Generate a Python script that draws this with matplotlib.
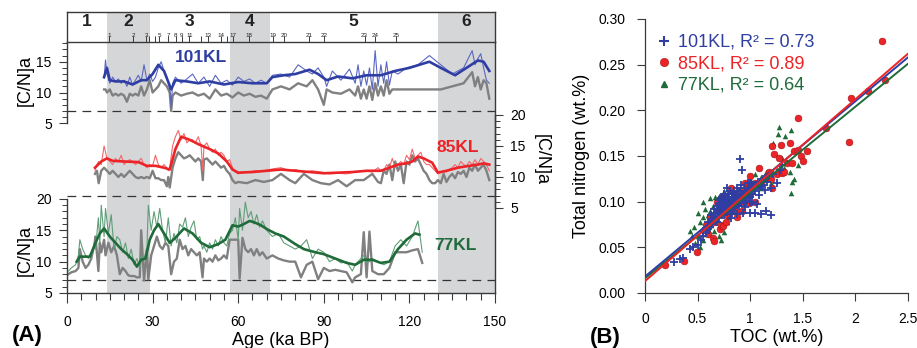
# C/N records of 101KL, 85KL, 77KL (A) and TN vs TOC (B)

import numpy as np
import matplotlib
matplotlib.use("Agg")
import matplotlib.pyplot as plt
from matplotlib.ticker import FixedLocator, MultipleLocator
from matplotlib.lines import Line2D

plt.rcParams['font.family'] = ['Liberation Sans', 'DejaVu Sans']

# ---------------- data ----------------
# MIS stages
stage_edges = [0, 14, 29, 57, 71, 130, 150]
stage_names = ['1', '2', '3', '4', '5', '6']
stage_shaded = [False, True, False, True, False, True]

# age tie points along the top
tie_ages = [14.7, 23.3, 27.7, 32.4, 35.5, 38.1, 40.2, 42.9, 49.4, 54.1,
            58.3, 63.9, 72.3, 76.1, 84.9, 90.1, 104.3, 108.1, 115.2]
tie_labels = ['1', '2', '3', '5', '7', '8', '9', '11', '13', '14',
              '17', '18', '19', '20', '21', '22', '23', '24', '25']
tie_extra = [28.9, 30.8, 46.9, 56.0]

# 101KL
age101 = [13, 13.5, 14, 15, 16, 17, 18, 19, 20, 21,
          22, 23, 24, 25, 26, 27, 28, 29, 30, 31,
          32, 33, 34, 35, 36, 36.5, 37, 38, 40, 42,
          44, 46, 48, 50, 52, 54, 56, 58, 60, 62,
          64, 66, 68, 70, 72, 75, 78, 81, 84, 86,
          88, 90, 91, 93, 96, 99, 101, 102, 103, 104,
          105, 106, 107, 108, 109, 110, 111, 112, 113, 114,
          116, 119, 123, 127, 131, 135, 139, 142, 143, 144,
          145, 146, 147, 148]
cn101 = [12.3, 15.3, 13.0, 11.5, 12.5, 11.8, 12.2, 11.5, 12.0, 11.0,
         12.5, 11.2, 12.0, 12.8, 11.8, 14.5, 12.0, 13.0, 11.8, 12.5,
         14.0, 15.0, 13.5, 12.5, 10.5, 7.5, 11.5, 12.5, 11.5, 12.2,
         13.0, 11.5, 12.5, 11.0, 12.8, 11.5, 12.0, 11.2, 12.5, 11.8,
         12.2, 11.5, 12.0, 11.5, 12.8, 13.0, 12.5, 14.5, 13.5, 13.0,
         14.0, 12.5, 11.0, 13.5, 12.0, 13.8, 11.5, 14.5, 11.0, 13.5,
         11.2, 14.0, 10.5, 16.8, 11.0, 14.5, 11.5, 15.0, 11.2, 13.5,
         13.0, 14.0, 14.5, 16.0, 14.5, 13.0, 14.0, 16.8, 14.5, 15.5,
         16.3, 14.0, 12.0, 11.5]
gray101 = [10.5, 10.5, 10.0, 10.5, 9.5, 9.8, 9.5, 9.8, 9.5, 8.5,
           9.8, 9.5, 9.8, 9.5, 11.0, 9.5, 10.5, 12.0, 10.0, 10.5,
           11.0, 12.0, 11.5, 11.0, 10.0, 7.0, 9.5, 10.0, 9.5, 9.8,
           10.0, 9.5, 9.8, 9.0, 10.5, 9.5, 9.8, 9.2, 10.0, 9.5,
           9.8, 9.3, 9.5, 9.0, 10.5, 11.0, 10.5, 11.5, 11.0, 12.0,
           10.5, 8.0, 10.5, 10.0, 9.8, 10.5, 9.5, 11.0, 9.0, 10.5,
           9.0, 11.0, 8.8, 11.5, 9.5, 11.0, 9.5, 12.0, 9.8, 10.5,
           10.5, 10.5, 10.5, 10.5, 10.5, 11.0, 11.5, 13.3, 11.0, 12.5,
           10.5, 12.0, 11.5, 9.0]
age101_s = [13, 14, 15, 17, 20, 23, 26, 28, 30, 32,
            34, 36.5, 38, 42, 46, 50, 55, 60, 65, 70,
            72, 76, 80, 85, 88, 91, 95, 100, 105, 110,
            115, 120, 127, 131, 136, 140, 144, 146, 148]
cn101_s = [12.5, 14.0, 12.0, 11.8, 11.8, 11.3, 12.0, 12.0, 13.0, 14.5,
           13.5, 10.5, 12.0, 11.8, 11.5, 11.8, 11.3, 11.7, 11.5, 11.5,
           12.5, 12.8, 13.0, 13.7, 13.0, 12.0, 12.6, 12.3, 12.8, 12.8,
           13.5, 14.0, 15.0, 14.0, 12.8, 14.0, 15.2, 15.0, 13.5]

# 85KL
age85 = [9.8, 10.5, 11.1, 12, 13, 14, 15, 16, 17, 18,
         19, 20, 21, 22, 23, 24, 25, 26, 27, 28,
         29, 30, 31, 32, 33, 34, 35, 35.5, 36, 37,
         38, 39, 40, 41, 42, 43, 44, 45, 46, 47,
         47.6, 48, 49, 50, 51, 52, 53, 54, 55, 56,
         57, 58, 59, 60, 63, 66, 69, 72, 75, 78,
         80, 83, 86, 89, 92, 95, 98, 101, 104, 107,
         109, 110, 111, 112, 113, 114, 115, 116, 117, 118,
         119, 120, 121, 122, 123, 124, 125, 126, 127, 128,
         129, 130, 131, 132, 133, 134, 135, 136, 137, 138,
         139, 140, 141, 142, 143, 144, 145, 146, 147, 148]
cn85 = [11.0, 12.0, 12.5, 12.0, 15.0, 13.0, 12.5, 12.0, 13.0, 12.5,
        13.5, 12.0, 12.5, 12.8, 12.5, 12.0, 12.5, 13.0, 12.0, 11.5,
        12.0, 11.8, 13.5, 12.0, 11.5, 12.0, 11.5, 11.0, 11.5, 15.0,
        16.5, 17.5, 16.0, 17.0, 15.5, 16.0, 16.0, 15.5, 16.5, 15.0,
        11.0, 15.0, 15.5, 14.5, 14.0, 14.5, 13.5, 14.0, 13.5, 12.5,
        12.8, 11.5, 10.8, 10.5, 10.8, 11.0, 11.0, 11.3, 11.5, 11.0,
        11.2, 10.8, 11.0, 10.8, 10.5, 10.6, 10.5, 10.8, 11.0, 10.8,
        11.5, 11.0, 11.0, 12.0, 11.5, 13.0, 11.5, 12.0, 12.5, 12.0,
        13.5, 12.8, 14.5, 13.0, 13.5, 14.0, 12.5, 12.0, 12.0, 11.5,
        11.0, 10.5, 10.8, 11.0, 10.8, 11.2, 11.5, 12.0, 11.5, 12.5,
        12.0, 11.8, 12.5, 12.0, 12.8, 12.0, 13.0, 12.5, 12.0, 11.0]
gray85 = [10.5, 11.0, 9.0, 11.0, 11.5, 11.0, 10.5, 11.0, 10.5, 10.0,
          10.5, 10.0, 10.5, 11.0, 10.5, 10.0, 9.8, 10.0, 9.8, 10.0,
          9.8, 11.0, 9.8, 9.8, 9.5, 9.5, 8.5, 10.0, 8.3, 11.5,
          13.0, 14.0, 13.5, 13.0, 13.2, 13.5, 13.0, 12.5, 13.0, 12.5,
          9.5, 12.8, 13.0, 12.5, 12.0, 12.5, 12.0, 11.5, 11.8, 11.0,
          10.5, 9.5, 9.0, 9.2, 9.0, 9.5, 9.2, 9.5, 10.5, 9.5,
          9.0, 10.5, 9.5, 9.0, 8.8, 9.5, 8.5, 9.5, 9.5, 10.5,
          9.2, 9.0, 11.0, 10.5, 12.0, 9.5, 12.5, 11.0, 12.0, 9.0,
          12.5, 12.0, 13.5, 12.5, 13.0, 12.0, 11.0, 10.5, 9.5, 9.0,
          9.0, 9.5, 9.0, 10.5, 9.2, 10.0, 10.5, 9.8, 10.8, 10.5,
          11.0, 10.0, 11.5, 11.0, 12.0, 11.0, 11.5, 12.0, 11.0, 9.5]
age85_s = [9.8, 12, 14, 16, 20, 25, 28, 31, 34, 36,
           38, 40, 43, 46, 50, 53, 56, 58, 60, 65,
           70, 75, 80, 85, 90, 95, 100, 105, 110, 113,
           116, 119, 121, 123, 125, 128, 130, 133, 137, 141,
           144, 146, 148]
cn85_s = [11.5, 12.5, 13.0, 12.6, 12.5, 12.4, 11.8, 11.8, 11.5, 11.2,
          14.5, 16.5, 16.0, 15.3, 14.5, 13.8, 12.5, 11.2, 10.7, 10.8,
          11.0, 11.2, 11.0, 10.8, 10.6, 10.7, 10.8, 11.0, 11.0, 11.5,
          12.0, 12.2, 12.5, 13.3, 13.0, 12.3, 10.7, 11.0, 11.5, 11.8,
          12.0, 12.2, 12.0]

# 77KL
age77 = [0.5, 1.5, 3, 4, 4.5, 5.5, 6.5, 7.5, 8.5, 9.5,
         10, 11, 11.5, 12, 13, 13.5, 14.5, 15.5, 16.5, 17.5,
         18.5, 19.5, 20.5, 21.5, 22.5, 23.5, 24.5, 25.5, 26, 27,
         28, 28.5, 29.5, 30.5, 31.5, 32.5, 33.5, 34.5, 35.5, 36.5,
         37.5, 38.5, 39.5, 40.5, 41.5, 42.5, 43.5, 44.5, 45.5, 46.5,
         47.5, 48, 49, 50, 51, 52, 53, 54, 55, 56,
         57, 58, 59, 60, 60.5, 61.5, 62.5, 63.5, 64.5, 65.5,
         66.5, 67.5, 68.5, 70, 72, 74, 76, 78, 80, 82,
         84, 86, 88, 90, 92, 94, 96, 98, 100, 101,
         103, 104, 105, 106, 107, 109, 111, 113, 115, 117,
         119, 121, 123, 124.5]
cn77 = [8.5, 9.0, 9.5, 11.0, 13.5, 12.0, 11.0, 10.5, 11.0, 12.5,
        12.0, 17.0, 13.0, 19.0, 14.0, 18.5, 14.5, 17.5, 12.0, 14.0,
        13.5, 11.5, 13.0, 10.5, 12.0, 9.5, 10.5, 9.0, 11.0, 10.5,
        12.0, 19.0, 15.0, 18.0, 15.5, 18.5, 15.0, 13.0, 17.0, 12.5,
        14.5, 13.0, 16.0, 15.5, 17.0, 14.0, 15.5, 16.5, 13.5, 14.0,
        12.0, 12.5, 11.5, 13.0, 12.0, 13.5, 12.5, 14.0, 13.0, 12.5,
        14.5, 15.0, 17.0, 13.5, 18.5, 15.0, 19.5, 17.0, 18.0, 16.0,
        17.5, 15.5, 16.5, 15.0, 14.0, 14.5, 13.0, 12.5, 12.0, 12.5,
        13.5, 10.5, 12.0, 11.5, 10.0, 10.5, 9.8, 10.0, 8.5, 9.5,
        10.5, 11.0, 9.8, 10.0, 10.5, 10.0, 9.5, 10.0, 12.5, 13.5,
        12.5, 14.0, 16.5, 11.5]
gray77 = [8.0, 8.3, 8.5, 9.0, 12.0, 10.0, 9.0, 9.5, 10.5, 12.5,
          14.0, 8.5, 13.0, 11.5, 13.5, 11.0, 13.0, 11.5, 12.5, 11.0,
          8.0, 9.0, 8.5, 7.8, 7.7, 7.7, 7.5, 7.5, 15.0, 7.0,
          12.0, 7.2, 11.0, 12.5, 14.0, 12.5, 12.0, 13.0, 12.5, 8.0,
          10.0, 10.5, 13.5, 12.0, 12.5, 11.0, 12.0, 11.5, 11.0, 11.5,
          7.5, 10.5, 10.0, 10.5, 10.0, 11.0, 10.2, 10.5, 11.0, 10.5,
          13.5, 13.5, 13.5, 13.5, 7.3, 13.8, 12.0, 11.5, 12.0, 11.0,
          12.0, 11.0, 11.5, 10.5, 11.0, 10.5, 10.2, 10.0, 10.0, 7.5,
          9.5, 10.0, 7.2, 9.0, 8.5, 8.7, 8.5, 8.3, 6.7, 7.5,
          8.0, 14.7, 7.5, 14.8, 8.5, 8.0, 8.0, 9.0, 11.5, 11.5,
          11.5, 11.8, 12.0, 9.8]
age77_s = [3.4, 4.5, 8, 10, 11.5, 13, 15, 17, 19, 21,
           23, 24.5, 26, 27.5, 29, 30.5, 32, 34, 36, 38,
           41, 44, 47, 50, 53, 55.5, 58, 60, 62, 64,
           66, 68, 70, 73, 76, 80, 83, 87, 90, 94,
           98, 101, 104, 107, 110, 113, 116, 119, 122, 123.5]
cn77_s = [10.0, 10.8, 10.8, 13.0, 14.5, 15.3, 14.0, 13.0, 12.0, 11.2,
          10.3, 9.2, 10.3, 10.5, 13.5, 15.0, 16.0, 14.5, 13.0, 13.8,
          15.3, 14.5, 13.0, 12.3, 12.8, 13.5, 15.8, 15.6, 16.0, 16.5,
          16.2, 15.8, 15.2, 14.5, 14.0, 12.8, 12.0, 11.5, 11.2, 10.5,
          9.8, 9.5, 10.3, 10.3, 9.8, 10.0, 12.0, 13.5, 14.5, 14.3]

# (B) TOC (wt.%) vs TN (wt.%)
pts101 = np.array([
    (0.28, 0.034), (0.33, 0.037), (0.36, 0.038), (0.43, 0.048), (0.46, 0.050), (0.50, 0.053), (0.53, 0.058), (0.55, 0.062), (0.58, 0.066), (0.60, 0.070),
    (0.62, 0.072), (0.64, 0.076), (0.65, 0.080), (0.66, 0.085), (0.68, 0.078), (0.69, 0.090), (0.70, 0.083), (0.71, 0.095), (0.72, 0.088), (0.73, 0.100),
    (0.74, 0.092), (0.75, 0.085), (0.76, 0.097), (0.77, 0.104), (0.78, 0.090), (0.79, 0.100), (0.80, 0.095), (0.80, 0.108), (0.81, 0.087), (0.82, 0.102),
    (0.83, 0.097), (0.84, 0.110), (0.85, 0.093), (0.85, 0.104), (0.86, 0.100), (0.87, 0.115), (0.88, 0.097), (0.88, 0.107), (0.89, 0.103), (0.90, 0.147),
    (0.90, 0.112), (0.91, 0.100), (0.92, 0.135), (0.92, 0.108), (0.93, 0.088), (0.94, 0.105), (0.95, 0.115), (0.96, 0.100), (0.97, 0.110), (0.98, 0.120),
    (0.99, 0.104), (1.00, 0.088), (1.00, 0.113), (1.02, 0.108), (1.03, 0.118), (1.05, 0.088), (1.05, 0.112), (1.07, 0.122), (1.08, 0.107), (1.10, 0.086),
    (1.10, 0.117), (1.12, 0.125), (1.14, 0.113), (1.15, 0.090), (1.16, 0.121), (1.18, 0.128), (1.20, 0.085), (1.20, 0.115), (1.22, 0.130), (1.25, 0.120),
    (1.28, 0.135), (1.30, 0.140), (0.75, 0.108), (0.70, 0.102), (0.95, 0.094), (0.82, 0.082), (0.87, 0.086), (1.00, 0.100), (1.06, 0.097), (0.78, 0.115),
    (0.66, 0.092), (0.67, 0.088), (0.68, 0.095), (0.69, 0.082), (0.70, 0.097), (0.71, 0.088), (0.72, 0.093), (0.72, 0.104), (0.73, 0.085), (0.74, 0.098),
    (0.75, 0.102), (0.76, 0.090), (0.76, 0.106), (0.77, 0.094), (0.78, 0.100), (0.79, 0.093), (0.79, 0.108), (0.80, 0.102), (0.81, 0.097), (0.81, 0.112),
    (0.82, 0.093), (0.83, 0.105), (0.83, 0.088), (0.84, 0.100), (0.85, 0.098), (0.86, 0.107), (0.86, 0.094), (0.87, 0.103), (0.88, 0.112), (0.89, 0.095),
    (0.90, 0.105), (0.91, 0.098), (0.91, 0.118), (0.92, 0.102), (0.93, 0.108), (0.94, 0.098), (0.95, 0.106), (0.96, 0.112), (0.97, 0.104), (0.98, 0.108),
    (0.99, 0.115), (1.00, 0.105), (1.01, 0.120), (1.02, 0.100), (1.04, 0.113), (1.06, 0.118), (1.08, 0.115), (1.10, 0.122), (1.12, 0.118), (1.14, 0.126),
    (0.55, 0.068), (0.60, 0.078), (0.63, 0.085)])
pts85 = np.array([
    (0.19, 0.031), (0.37, 0.035), (0.49, 0.045), (0.58, 0.075), (0.60, 0.065), (0.62, 0.083), (0.63, 0.080), (0.65, 0.060), (0.66, 0.057), (0.66, 0.078),
    (0.68, 0.100), (0.70, 0.090), (0.71, 0.070), (0.72, 0.074), (0.73, 0.105), (0.74, 0.073), (0.75, 0.095), (0.77, 0.078), (0.78, 0.085), (0.80, 0.100),
    (0.82, 0.115), (0.83, 0.094), (0.85, 0.110), (0.86, 0.090), (0.87, 0.083), (0.88, 0.104), (0.90, 0.100), (0.92, 0.090), (0.93, 0.113), (0.95, 0.120),
    (0.97, 0.110), (0.99, 0.098), (1.00, 0.107), (1.00, 0.128), (1.02, 0.115), (1.05, 0.100), (1.05, 0.120), (1.08, 0.137), (1.10, 0.120), (1.15, 0.125),
    (1.18, 0.132), (1.20, 0.125), (1.21, 0.115), (1.21, 0.161), (1.23, 0.152), (1.25, 0.130), (1.27, 0.148), (1.29, 0.162), (1.30, 0.131), (1.32, 0.133),
    (1.35, 0.142), (1.38, 0.164), (1.40, 0.142), (1.42, 0.155), (1.45, 0.157), (1.48, 0.150), (1.50, 0.145), (1.54, 0.155), (1.45, 0.192), (1.72, 0.181),
    (1.94, 0.165), (1.96, 0.213), (2.12, 0.221), (2.25, 0.276), (2.28, 0.233)])
pts77 = np.array([
    (0.43, 0.068), (0.45, 0.062), (0.47, 0.072), (0.48, 0.055), (0.50, 0.088), (0.50, 0.062), (0.52, 0.050), (0.52, 0.078), (0.55, 0.083), (0.55, 0.058),
    (0.55, 0.100), (0.57, 0.092), (0.58, 0.065), (0.60, 0.070), (0.60, 0.085), (0.62, 0.090), (0.62, 0.104), (0.63, 0.075), (0.65, 0.095), (0.66, 0.068),
    (0.67, 0.105), (0.68, 0.080), (0.70, 0.106), (0.70, 0.062), (0.72, 0.100), (0.72, 0.058), (0.73, 0.090), (0.75, 0.067), (0.75, 0.112), (0.78, 0.078),
    (0.78, 0.104), (0.80, 0.083), (0.80, 0.100), (0.85, 0.095), (0.88, 0.098), (0.90, 0.115), (0.95, 0.118), (1.00, 0.125), (1.05, 0.130), (1.10, 0.127),
    (1.10, 0.115), (1.15, 0.132), (1.20, 0.120), (1.215, 0.164), (1.25, 0.135), (1.26, 0.174), (1.275, 0.182), (1.30, 0.148), (1.32, 0.137), (1.335, 0.172),
    (1.35, 0.143), (1.38, 0.132), (1.39, 0.179), (1.39, 0.110), (1.40, 0.122), (1.42, 0.125), (1.45, 0.140)])
# regression lines (intercept, slope) and R2
fit101 = (0.018, 0.096)
fit85 = (0.013, 0.0996)
fit77 = (0.016, 0.094)
r2 = {'101KL': 0.73, '85KL': 0.89, '77KL': 0.64}

# ---------------- styles ----------------
BLUE, BLUE_T = '#2f3ea3', '#5a67c2'
RED, RED_T = '#ec2327', '#f2686a'
GREEN, GREEN_T = '#1f6b3a', '#5f9e78'
GRAY = '#808080'
SHADE = '#d5d6d8'
AXC = '#3a3a3a'

W, H = 917, 348
fig = plt.figure(figsize=(W / 100, H / 100), dpi=100)


def box(l, t, r, b):
    return [l / W, 1 - b / H, (r - l) / W, (b - t) / H]


# ---------------- panel A ----------------
L, R, TOP, MID, BOT = 67, 495, 12, 42, 293

band = fig.add_axes(box(L, TOP, R, MID))
base = fig.add_axes(box(L, MID, R, BOT))
band.set_zorder(3)
for a in (band, base):
    a.set_xlim(0, 150)
    a.set_ylim(0, 1)
    for i, sh in enumerate(stage_shaded):
        if sh:
            a.axvspan(stage_edges[i], stage_edges[i + 1], color=SHADE, lw=0, zorder=0)
    for s in a.spines.values():
        s.set_color(AXC)
        s.set_linewidth(1.0)
    a.tick_params(left=False, labelleft=False)

# band with stage numbers and tie points
for i, name in enumerate(stage_names):
    band.text((stage_edges[i] + stage_edges[i + 1]) / 2, 0.7, name, ha='center', va='center',
              fontsize=12.5, fontweight='bold', color='#222222')
band.xaxis.set_major_locator(FixedLocator(tie_ages))
band.xaxis.set_minor_locator(FixedLocator(tie_extra))
band.tick_params(axis='x', which='both', direction='in', length=4, width=0.7, color=AXC,
                 labelbottom=False)
for xa, lab in zip(tie_ages, tie_labels):
    band.text(xa, 0.14, lab, ha='center', va='bottom', fontsize=4.5, color='#222222')

base.spines['top'].set_visible(False)
base.spines['left'].set_visible(False)
base.xaxis.set_major_locator(MultipleLocator(30))
base.xaxis.set_minor_locator(MultipleLocator(5))
base.tick_params(axis='x', which='major', direction='out', length=7, width=0.8, color=AXC,
                 labelsize=10, pad=9)
base.tick_params(axis='x', which='minor', direction='out', length=5, width=0.8, color=AXC)
base.set_xlabel('Age (ka BP)', fontsize=13, labelpad=2)

# overlay axes for the three records; y limits set so the scales sit as in the figure
ax1 = fig.add_axes(box(L, MID, R, BOT), sharex=base)
ax2 = fig.add_axes(box(L, MID, R, BOT), sharex=base)
ax3 = fig.add_axes(box(L, MID, R, BOT), sharex=base)
ax1.set_ylim(-22.55, 18.2)
ax2.set_ylim(-8.71, 31.77)
ax3.set_ylim(5, 45.03)

for a in (ax1, ax2, ax3):
    a.patch.set_visible(False)
    a.xaxis.set_visible(False)
    for s in a.spines.values():
        s.set_visible(False)
        s.set_color(AXC)
        s.set_linewidth(1.0)
    a.axhline(7, color='#333333', lw=0.9, dashes=(7, 5), zorder=1)
    a.tick_params(axis='y', which='major', length=6, width=0.8, color=AXC, labelsize=10, pad=5)
    a.tick_params(axis='y', which='minor', length=3.5, width=0.7, color=AXC)

ax1.spines['left'].set_visible(True)
ax1.spines['left'].set_bounds(5, 18.2)
ax1.yaxis.set_major_locator(FixedLocator([5, 10, 15]))
ax1.yaxis.set_minor_locator(FixedLocator(list(range(6, 19))))

ax2.spines['right'].set_visible(True)
ax2.spines['right'].set_bounds(5, 20)
ax2.yaxis.tick_right()
ax2.yaxis.set_major_locator(FixedLocator([5, 10, 15, 20]))
ax2.yaxis.set_minor_locator(FixedLocator(list(range(5, 21))))

ax3.spines['left'].set_visible(True)
ax3.spines['left'].set_bounds(5, 20)
ax3.yaxis.set_major_locator(FixedLocator([5, 10, 15, 20]))
ax3.yaxis.set_minor_locator(FixedLocator(list(range(5, 21))))

# records
ax1.plot(age101, gray101, color=GRAY, lw=1.7, zorder=2)
ax1.plot(age101, cn101, color=BLUE_T, lw=0.8, zorder=3)
ax1.plot(age101_s, cn101_s, color=BLUE, lw=1.9, zorder=4)
ax1.text(47, 15.7, '101KL', color=BLUE, fontsize=12.5, fontweight='bold', ha='center', va='center')

ax2.plot(age85, gray85, color=GRAY, lw=1.7, zorder=2)
ax2.plot(age85, cn85, color=RED_T, lw=0.8, zorder=3)
ax2.plot(age85_s, cn85_s, color=RED, lw=1.9, zorder=4)
ax2.text(137, 14.8, '85KL', color=RED, fontsize=12.5, fontweight='bold', ha='center', va='center')

ax3.plot(age77, gray77, color=GRAY, lw=1.7, zorder=2)
ax3.plot(age77, cn77, color=GREEN_T, lw=0.8, zorder=3)
ax3.plot(age77_s, cn77_s, color=GREEN, lw=1.9, zorder=4)
ax3.text(136, 12.5, '77KL', color=GREEN, fontsize=12.5, fontweight='bold', ha='center', va='center')

fig.text(25 / W, 1 - 80 / H, '[C/N]a', rotation=90, ha='center', va='center', fontsize=13)
fig.text(25 / W, 1 - 250 / H, '[C/N]a', rotation=90, ha='center', va='center', fontsize=13)
fig.text(541 / W, 1 - 160 / H, '[C/N]a', rotation=270, ha='center', va='center', fontsize=13)
fig.text(12 / W, 1 - 336 / H, '(A)', ha='left', va='center', fontsize=16, fontweight='bold')

# ---------------- panel B ----------------
axb = fig.add_axes(box(645, 19, 908, 293))
axb.set_xlim(0, 2.5)
axb.set_ylim(0, 0.30)
for s in ('top', 'right'):
    axb.spines[s].set_visible(False)
for s in ('left', 'bottom'):
    axb.spines[s].set_color(AXC)
    axb.spines[s].set_linewidth(0.9)
axb.xaxis.set_major_locator(FixedLocator([0, 0.5, 1, 1.5, 2, 2.5]))
axb.set_xticklabels(['0', '0.5', '1', '1.5', '2', '2.5'])
axb.yaxis.set_major_locator(MultipleLocator(0.05))
axb.yaxis.set_major_formatter('{x:.2f}')
axb.tick_params(direction='out', length=6, width=0.8, color=AXC, labelsize=10, pad=8)
axb.set_xlabel('TOC (wt.%)', fontsize=13, labelpad=2)
axb.set_ylabel('Total nitrogen (wt.%)', fontsize=13, labelpad=6)

axb.scatter(pts77[:, 0], pts77[:, 1], marker='^', s=16, color=GREEN, lw=0, zorder=3)
axb.scatter(pts85[:, 0], pts85[:, 1], marker='o', s=24, color=RED, edgecolors='#a01418',
            linewidths=0.4, zorder=4)
axb.scatter(pts101[:, 0], pts101[:, 1], marker='+', s=26, color=BLUE, linewidths=1.3, zorder=5)

xs = np.array([0, 2.5])
for (b0, b1), c in ((fit77, GREEN), (fit101, BLUE), (fit85, RED)):
    axb.plot(xs, b0 + b1 * xs, color=c, lw=1.4, zorder=6)

handles = [Line2D([], [], ls='none', marker='+', ms=7, mew=1.5, color=BLUE),
           Line2D([], [], ls='none', marker='o', ms=6, color=RED, mec='#a01418', mew=0.4),
           Line2D([], [], ls='none', marker='^', ms=5, color=GREEN)]
labels = [f'{k}, R\u00b2 = {v:.2f}' for k, v in r2.items()]
axb.legend(handles, labels, loc='upper left', bbox_to_anchor=(-0.01, 0.985), frameon=False,
           fontsize=13, handletextpad=0.15, handlelength=1.2, labelspacing=0.25,
           borderaxespad=0.2, labelcolor=[BLUE, RED, GREEN])

fig.text(590 / W, 1 - 337 / H, '(B)', ha='left', va='center', fontsize=16, fontweight='bold')

fig.savefig('out.png', dpi=100)
